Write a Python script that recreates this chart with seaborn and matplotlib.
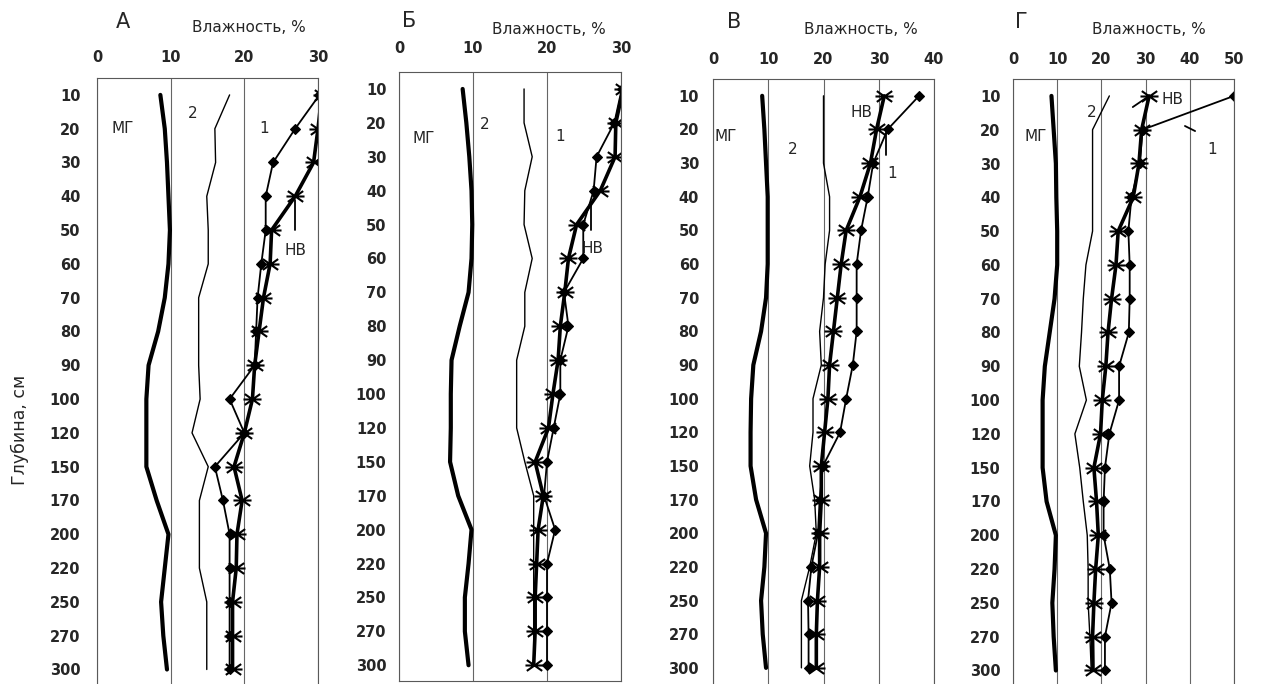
import numpy as np
import matplotlib
matplotlib.use("Agg")
import matplotlib.pyplot as plt
from matplotlib.path import Path
import seaborn as sns

# Depth levels (cm), plotted as equally spaced categories
DEPTHS = [10, 20, 30, 40, 50, 60, 70, 80, 90, 100, 120, 150, 170, 200, 220, 250, 270, 300]

# Panel A
a_mg = [8.6, 9.2, 9.5, 9.7, 9.9, 9.7, 9.2, 8.3, 7.0, 6.7, 6.7, 6.7, 8.1, 9.7, 9.2, 8.7, 9.0, 9.5]
a_line2 = [18.0, 16.0, 16.1, 14.9, 15.1, 15.1, 13.8, 13.8, 13.8, 14.0, 12.9, 15.1, 13.9, 13.9, 13.9, 14.9, 14.9, 14.9]
a_diam = [30.2, 26.9, 23.9, 22.9, 22.9, 22.3, 21.8, 21.6, 21.4, 18.0, 20.0, 16.0, 17.1, 18.0, 18.0, 18.0, 18.0, 18.0]
a_star = [30.5, 30.0, 29.4, 26.9, 23.7, 23.5, 22.6, 22.0, 21.4, 21.1, 20.0, 18.6, 19.7, 19.0, 18.9, 18.4, 18.4, 18.4]

# Panel Б
b_mg = [8.6, 9.1, 9.5, 9.8, 9.9, 9.8, 9.4, 8.2, 7.1, 7.0, 7.0, 6.9, 8.0, 9.8, 9.4, 8.9, 8.9, 9.4]
b_line2 = [16.9, 16.9, 18.0, 17.0, 16.9, 18.0, 17.0, 17.0, 15.9, 15.9, 15.9, 17.0, 18.2, 18.2, 18.2, 18.2, 18.2, 18.2]
b_diam = [30.1, 29.1, 26.7, 26.3, 24.9, 24.9, 22.3, 22.9, 21.8, 21.8, 20.9, 20.0, 19.6, 21.1, 20.0, 20.0, 20.0, 20.0]
b_star = [30.3, 29.3, 29.2, 27.2, 24.0, 22.9, 22.4, 21.8, 21.5, 20.8, 20.2, 18.4, 19.5, 18.8, 18.6, 18.4, 18.4, 18.2]

# Panel В
v_mg = [8.9, 9.3, 9.6, 9.9, 9.9, 9.9, 9.6, 8.7, 7.3, 6.9, 6.8, 6.8, 7.8, 9.6, 9.3, 8.7, 9.0, 9.6]
v_line2 = [20.0, 20.0, 20.0, 21.1, 21.1, 20.3, 20.0, 19.3, 19.6, 18.1, 18.1, 17.5, 18.4, 18.7, 17.5, 16.0, 16.0, 16.0]
v_diam = [37.3, 31.6, 29.0, 28.0, 26.8, 26.0, 26.0, 26.0, 25.3, 24.1, 23.0, 19.9, 19.3, 19.0, 17.8, 17.2, 17.3, 17.3]
v_star = [31.0, 29.6, 28.5, 26.6, 24.1, 23.2, 22.5, 21.8, 21.1, 20.8, 20.2, 19.6, 19.6, 19.3, 19.3, 18.9, 18.7, 18.7]

# Panel Г
g_mg = [8.7, 9.2, 9.7, 9.8, 10.0, 10.0, 9.4, 8.3, 7.2, 6.7, 6.7, 6.7, 7.6, 9.7, 9.4, 8.9, 9.2, 9.7]
g_line2 = [21.8, 18.0, 18.0, 18.0, 18.0, 16.5, 15.9, 15.5, 15.0, 16.6, 14.0, 15.1, 15.9, 16.8, 17.0, 17.0, 17.4, 17.7]
g_diam = [50.0, 29.3, 28.7, 26.8, 26.1, 26.4, 26.4, 26.2, 24.0, 24.0, 21.8, 20.8, 20.5, 20.5, 21.9, 22.3, 20.8, 20.8]
g_star = [30.8, 29.1, 28.5, 27.2, 23.8, 23.3, 22.3, 21.5, 21.0, 20.2, 19.8, 18.3, 18.9, 19.3, 18.7, 18.3, 18.0, 18.1]

W, H = 1261, 684

panels = [
    dict(letter="А", series=(a_mg, a_line2, a_diam, a_star), xmax=30, xticks=[0, 10, 20, 30],
         box=(97, 78, 221, 33.8, 17.6), letter_xy=(123, 22), xlabel_xy=(249, 28), ypad=12, xpad=9,
         labels=[("МГ", 3.5, 1.0), ("2", 13.0, 0.55), ("1", 22.7, 1.0), ("НВ", 26.9, 4.6)],
         marks=[((26.9, 26.9), (3.1, 4.0))]),
    dict(letter="Б", series=(b_mg, b_line2, b_diam, b_star), xmax=30, xticks=[0, 10, 20, 30],
         box=(399, 72, 222, 33.9, 17.45), letter_xy=(409, 21), xlabel_xy=(549, 29), ypad=9, xpad=11.5,
         labels=[("МГ", 3.4, 1.45), ("2", 11.6, 1.06), ("1", 21.8, 1.4), ("НВ", 26.1, 4.7)],
         marks=[((25.9, 25.9), (3.4, 4.15))]),
    dict(letter="В", series=(v_mg, v_line2, v_diam, v_star), xmax=40, xticks=[0, 10, 20, 30, 40],
         box=(713, 79, 221, 33.65, 17.6), letter_xy=(734, 22), xlabel_xy=(861, 29), ypad=10, xpad=9,
         labels=[("МГ", 2.3, 1.2), ("2", 14.5, 1.6), ("1", 32.5, 2.3), ("НВ", 26.9, 0.5)],
         marks=[((31.3, 31.3), (1.1, 1.75))]),
    dict(letter="Г", series=(g_mg, g_line2, g_diam, g_star), xmax=50, xticks=[0, 10, 20, 30, 40, 50],
         box=(1013, 79, 221, 33.8, 17.6), letter_xy=(1021, 22), xlabel_xy=(1149, 29), ypad=9, xpad=9,
         labels=[("МГ", 5.2, 1.2), ("2", 17.9, 0.5), ("1", 45.0, 1.6), ("НВ", 36.0, 0.12)],
         marks=[((27.1, 30.8), (0.33, 0.0)), ((38.9, 41.2), (0.89, 1.04))]),
]

# asterisk marker: horizontal bar crossed by a flat X
STAR = Path([(-1, 0), (1, 0), (-0.85, -0.6), (0.85, 0.6), (-0.85, 0.6), (0.85, -0.6)],
            [Path.MOVETO, Path.LINETO] * 3)

sns.set_style("white")
plt.rcParams["font.family"] = ["DejaVu Sans"]

fig = plt.figure(figsize=(W / 100, H / 100), dpi=100)
pos = np.arange(len(DEPTHS))
y_top = -0.5

for i, p in enumerate(panels):
    left, top, width, step, y_bot = p["box"]
    height = (y_bot - y_top) * step
    ax = fig.add_axes([left / W, 1 - (top + height) / H, width / W, height / H])
    mg, line2, diam, star = p["series"]

    sns.lineplot(x=mg, y=pos, orient="y", sort=False, estimator=None, color="black", lw=3.0, ax=ax)
    sns.lineplot(x=line2, y=pos, orient="y", sort=False, estimator=None, color="black", lw=1.0, ax=ax)
    sns.lineplot(x=diam, y=pos, orient="y", sort=False, estimator=None, color="black", lw=1.3,
                 marker="D", markersize=5, mec="black", mew=0.8, ax=ax)
    sns.lineplot(x=star, y=pos, orient="y", sort=False, estimator=None, color="black", lw=2.6,
                 marker=STAR, markersize=13, mec="black", mew=1.5, ax=ax)

    for txt, x, y in p["labels"]:
        ax.text(x, y, txt, ha="center", va="center", fontsize=11)
    for xs, ys in p["marks"]:
        ax.plot(xs, ys, color="black", lw=1.3)

    ax.set_xlim(0, p["xmax"])
    ax.set_ylim(y_bot, y_top)
    ax.xaxis.tick_top()
    ax.set_xticks(p["xticks"])
    ax.set_xticklabels([str(t) for t in p["xticks"]], fontweight="bold", fontsize=10.5)
    ax.set_yticks(pos)
    ax.set_yticklabels([str(d) for d in DEPTHS], fontweight="bold", fontsize=10.5)
    ax.set_yticks(pos[:-1] + 0.5, minor=True)
    ax.tick_params(axis="y", which="major", length=0, pad=p["ypad"])
    ax.tick_params(axis="y", which="minor", direction="in", length=4, width=0.8, color="0.3")
    ax.tick_params(axis="x", length=0, pad=p["xpad"])
    ax.grid(axis="x", color="0.4", lw=0.8)
    ax.grid(axis="y", visible=False)
    for s in ax.spines.values():
        s.set_color("0.35")
        s.set_linewidth(0.8)
    ax.set_xlabel("")
    ax.set_ylabel("")

    lx, ly = p["letter_xy"]
    fig.text(lx / W, 1 - ly / H, p["letter"], ha="center", va="center", fontsize=15)
    tx, ty = p["xlabel_xy"]
    fig.text(tx / W, 1 - ty / H, "Влажность, %", ha="center", va="center", fontsize=11)

fig.text(20 / W, 1 - 430 / H, "Глубина, см", rotation=90, ha="center", va="center", fontsize=12.5)

fig.savefig("out.png", dpi=100)
